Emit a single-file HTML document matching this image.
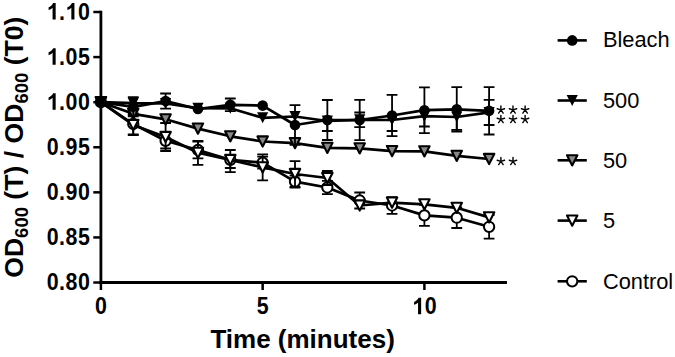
<!DOCTYPE html>
<html><head><meta charset="utf-8"><style>
html,body{margin:0;padding:0;background:#fff;}
svg{display:block;}
text{font-family:"Liberation Sans",sans-serif;fill:#000;}
.tk{font-size:22.5px;font-weight:bold;}
.ttl{font-size:26px;font-weight:bold;}
.yt{font-size:26.6px;font-weight:bold;}
.sub{font-size:18.5px;}
.lg{font-size:21.8px;}
.st{font-size:19px;}
</style></head><body>
<svg width="675" height="357" viewBox="0 0 675 357">
<rect width="675" height="357" fill="#fff"/>
<path d="M100.90,10.70V283.81" stroke="#000" stroke-width="2.8"/>
<path d="M93.3,282.51H100.90" stroke="#000" stroke-width="2.5"/>
<path d="M93.3,237.43H100.90" stroke="#000" stroke-width="2.5"/>
<path d="M93.3,192.34H100.90" stroke="#000" stroke-width="2.5"/>
<path d="M93.3,147.26H100.90" stroke="#000" stroke-width="2.5"/>
<path d="M93.3,102.17H100.90" stroke="#000" stroke-width="2.5"/>
<path d="M93.3,57.09H100.90" stroke="#000" stroke-width="2.5"/>
<path d="M93.3,12.00H100.90" stroke="#000" stroke-width="2.5"/>
<path d="M99.50,282.51H507" stroke="#000" stroke-width="2.8"/>
<path d="M100.90,282.51V290" stroke="#000" stroke-width="2.5"/>
<path d="M262.65,282.51V290" stroke="#000" stroke-width="2.5"/>
<path d="M424.40,282.51V290" stroke="#000" stroke-width="2.5"/>
<path d="M133.25,113.50V134.50M127.85,113.50H138.65M127.85,134.50H138.65" stroke="#000" stroke-width="1.8"/>
<path d="M165.60,133.10V148.50M160.20,133.10H171.00M160.20,148.50H171.00" stroke="#000" stroke-width="1.8"/>
<path d="M197.95,141.70V158.30M192.55,141.70H203.35M192.55,158.30H203.35" stroke="#000" stroke-width="1.8"/>
<path d="M230.30,150.00V172.10M224.90,150.00H235.70M224.90,172.10H235.70" stroke="#000" stroke-width="1.8"/>
<path d="M262.65,156.60V168.60M257.25,156.60H268.05M257.25,168.60H268.05" stroke="#000" stroke-width="1.8"/>
<path d="M295.00,175.60V187.60M289.60,175.60H300.40M289.60,187.60H300.40" stroke="#000" stroke-width="1.8"/>
<path d="M327.35,180.80V194.20M321.95,180.80H332.75M321.95,194.20H332.75" stroke="#000" stroke-width="1.8"/>
<path d="M359.70,192.50V208.50M354.30,192.50H365.10M354.30,208.50H365.10" stroke="#000" stroke-width="1.8"/>
<path d="M392.05,197.10V213.90M386.65,197.10H397.45M386.65,213.90H397.45" stroke="#000" stroke-width="1.8"/>
<path d="M424.40,204.90V225.90M419.00,204.90H429.80M419.00,225.90H429.80" stroke="#000" stroke-width="1.8"/>
<path d="M456.75,207.40V228.00M451.35,207.40H462.15M451.35,228.00H462.15" stroke="#000" stroke-width="1.8"/>
<path d="M489.10,215.00V238.60M483.70,215.00H494.50M483.70,238.60H494.50" stroke="#000" stroke-width="1.8"/>
<polyline points="100.90,102.17 133.25,124.00 165.60,140.80 197.95,150.00 230.30,159.80 262.65,162.60 295.00,181.60 327.35,187.50 359.70,200.50 392.05,205.50 424.40,215.40 456.75,217.70 489.10,226.80" fill="none" stroke="#000" stroke-width="2.7" stroke-linejoin="round"/>
<circle cx="100.90" cy="102.17" r="5.15" fill="#fff" stroke="#000" stroke-width="2"/>
<circle cx="133.25" cy="124.00" r="5.15" fill="#fff" stroke="#000" stroke-width="2"/>
<circle cx="165.60" cy="140.80" r="5.15" fill="#fff" stroke="#000" stroke-width="2"/>
<circle cx="197.95" cy="150.00" r="5.15" fill="#fff" stroke="#000" stroke-width="2"/>
<circle cx="230.30" cy="159.80" r="5.15" fill="#fff" stroke="#000" stroke-width="2"/>
<circle cx="262.65" cy="162.60" r="5.15" fill="#fff" stroke="#000" stroke-width="2"/>
<circle cx="295.00" cy="181.60" r="5.15" fill="#fff" stroke="#000" stroke-width="2"/>
<circle cx="327.35" cy="187.50" r="5.15" fill="#fff" stroke="#000" stroke-width="2"/>
<circle cx="359.70" cy="200.50" r="5.15" fill="#fff" stroke="#000" stroke-width="2"/>
<circle cx="392.05" cy="205.50" r="5.15" fill="#fff" stroke="#000" stroke-width="2"/>
<circle cx="424.40" cy="215.40" r="5.15" fill="#fff" stroke="#000" stroke-width="2"/>
<circle cx="456.75" cy="217.70" r="5.15" fill="#fff" stroke="#000" stroke-width="2"/>
<circle cx="489.10" cy="226.80" r="5.15" fill="#fff" stroke="#000" stroke-width="2"/>
<path d="M133.25,115.00V135.00M127.85,115.00H138.65M127.85,135.00H138.65" stroke="#000" stroke-width="1.8"/>
<path d="M165.60,123.00V151.00M160.20,123.00H171.00M160.20,151.00H171.00" stroke="#000" stroke-width="1.8"/>
<path d="M197.95,140.80V164.80M192.55,140.80H203.35M192.55,164.80H203.35" stroke="#000" stroke-width="1.8"/>
<path d="M230.30,160.00V168.00M224.90,168.00H235.70" stroke="#000" stroke-width="1.8"/>
<path d="M262.65,154.40V180.40M257.25,154.40H268.05M257.25,180.40H268.05" stroke="#000" stroke-width="1.8"/>
<path d="M295.00,161.20V186.80M289.60,161.20H300.40M289.60,186.80H300.40" stroke="#000" stroke-width="1.8"/>
<path d="M327.35,171.00V185.00M321.95,171.00H332.75M321.95,185.00H332.75" stroke="#000" stroke-width="1.8"/>
<polyline points="100.90,102.17 133.25,125.00 165.60,137.00 197.95,152.80 230.30,160.00 262.65,167.40 295.00,174.00 327.35,178.00 359.70,205.50 392.05,202.60 424.40,204.30 456.75,207.80 489.10,217.40" fill="none" stroke="#000" stroke-width="2.7" stroke-linejoin="round"/>
<path d="M95.70,97.07L106.10,97.07L100.90,107.27Z" fill="#fff" stroke="#000" stroke-width="2.1" stroke-linejoin="round"/>
<path d="M128.05,119.90L138.45,119.90L133.25,130.10Z" fill="#fff" stroke="#000" stroke-width="2.1" stroke-linejoin="round"/>
<path d="M160.40,131.90L170.80,131.90L165.60,142.10Z" fill="#fff" stroke="#000" stroke-width="2.1" stroke-linejoin="round"/>
<path d="M192.75,147.70L203.15,147.70L197.95,157.90Z" fill="#fff" stroke="#000" stroke-width="2.1" stroke-linejoin="round"/>
<path d="M225.10,154.90L235.50,154.90L230.30,165.10Z" fill="#fff" stroke="#000" stroke-width="2.1" stroke-linejoin="round"/>
<path d="M257.45,162.30L267.85,162.30L262.65,172.50Z" fill="#fff" stroke="#000" stroke-width="2.1" stroke-linejoin="round"/>
<path d="M289.80,168.90L300.20,168.90L295.00,179.10Z" fill="#fff" stroke="#000" stroke-width="2.1" stroke-linejoin="round"/>
<path d="M322.15,172.90L332.55,172.90L327.35,183.10Z" fill="#fff" stroke="#000" stroke-width="2.1" stroke-linejoin="round"/>
<path d="M354.50,200.40L364.90,200.40L359.70,210.60Z" fill="#fff" stroke="#000" stroke-width="2.1" stroke-linejoin="round"/>
<path d="M386.85,197.50L397.25,197.50L392.05,207.70Z" fill="#fff" stroke="#000" stroke-width="2.1" stroke-linejoin="round"/>
<path d="M419.20,199.20L429.60,199.20L424.40,209.40Z" fill="#fff" stroke="#000" stroke-width="2.1" stroke-linejoin="round"/>
<path d="M451.55,202.70L461.95,202.70L456.75,212.90Z" fill="#fff" stroke="#000" stroke-width="2.1" stroke-linejoin="round"/>
<path d="M483.90,212.30L494.30,212.30L489.10,222.50Z" fill="#fff" stroke="#000" stroke-width="2.1" stroke-linejoin="round"/>
<polyline points="100.90,102.17 133.25,113.80 165.60,119.30 197.95,128.60 230.30,136.30 262.65,141.50 295.00,143.10 327.35,147.80 359.70,148.30 392.05,151.10 424.40,151.30 456.75,155.80 489.10,159.00" fill="none" stroke="#000" stroke-width="2.7" stroke-linejoin="round"/>
<path d="M95.70,97.07L106.10,97.07L100.90,107.27Z" fill="#888888" stroke="#000" stroke-width="2.1" stroke-linejoin="round"/>
<path d="M128.05,108.70L138.45,108.70L133.25,118.90Z" fill="#888888" stroke="#000" stroke-width="2.1" stroke-linejoin="round"/>
<path d="M160.40,114.20L170.80,114.20L165.60,124.40Z" fill="#888888" stroke="#000" stroke-width="2.1" stroke-linejoin="round"/>
<path d="M192.75,123.50L203.15,123.50L197.95,133.70Z" fill="#888888" stroke="#000" stroke-width="2.1" stroke-linejoin="round"/>
<path d="M225.10,131.20L235.50,131.20L230.30,141.40Z" fill="#888888" stroke="#000" stroke-width="2.1" stroke-linejoin="round"/>
<path d="M257.45,136.40L267.85,136.40L262.65,146.60Z" fill="#888888" stroke="#000" stroke-width="2.1" stroke-linejoin="round"/>
<path d="M289.80,138.00L300.20,138.00L295.00,148.20Z" fill="#888888" stroke="#000" stroke-width="2.1" stroke-linejoin="round"/>
<path d="M322.15,142.70L332.55,142.70L327.35,152.90Z" fill="#888888" stroke="#000" stroke-width="2.1" stroke-linejoin="round"/>
<path d="M354.50,143.20L364.90,143.20L359.70,153.40Z" fill="#888888" stroke="#000" stroke-width="2.1" stroke-linejoin="round"/>
<path d="M386.85,146.00L397.25,146.00L392.05,156.20Z" fill="#888888" stroke="#000" stroke-width="2.1" stroke-linejoin="round"/>
<path d="M419.20,146.20L429.60,146.20L424.40,156.40Z" fill="#888888" stroke="#000" stroke-width="2.1" stroke-linejoin="round"/>
<path d="M451.55,150.70L461.95,150.70L456.75,160.90Z" fill="#888888" stroke="#000" stroke-width="2.1" stroke-linejoin="round"/>
<path d="M483.90,153.90L494.30,153.90L489.10,164.10Z" fill="#888888" stroke="#000" stroke-width="2.1" stroke-linejoin="round"/>
<path d="M327.35,121.00V131.00M321.95,131.00H332.75" stroke="#000" stroke-width="1.8"/>
<path d="M359.70,112.50V127.10M354.30,112.50H365.10M354.30,127.10H365.10" stroke="#000" stroke-width="1.8"/>
<path d="M392.05,120.00V131.00M386.65,131.00H397.45" stroke="#000" stroke-width="1.8"/>
<path d="M424.40,116.20V126.50M419.00,126.50H429.80" stroke="#000" stroke-width="1.8"/>
<path d="M456.75,117.00V129.80M451.35,129.80H462.15" stroke="#000" stroke-width="1.8"/>
<path d="M489.10,99.80V125.00M483.70,99.80H494.50M483.70,125.00H494.50" stroke="#000" stroke-width="1.8"/>
<polyline points="100.90,102.17 133.25,103.20 165.60,103.50 197.95,108.20 230.30,108.30 262.65,117.80 295.00,116.50 327.35,121.00 359.70,119.80 392.05,120.00 424.40,116.20 456.75,117.00 489.10,112.40" fill="none" stroke="#000" stroke-width="2.7" stroke-linejoin="round"/>
<path d="M95.30,96.67L106.50,96.67L100.90,107.67Z" fill="#000"/>
<path d="M127.65,97.70L138.85,97.70L133.25,108.70Z" fill="#000"/>
<path d="M160.00,98.00L171.20,98.00L165.60,109.00Z" fill="#000"/>
<path d="M192.35,102.70L203.55,102.70L197.95,113.70Z" fill="#000"/>
<path d="M224.70,102.80L235.90,102.80L230.30,113.80Z" fill="#000"/>
<path d="M257.05,112.30L268.25,112.30L262.65,123.30Z" fill="#000"/>
<path d="M289.40,111.00L300.60,111.00L295.00,122.00Z" fill="#000"/>
<path d="M321.75,115.50L332.95,115.50L327.35,126.50Z" fill="#000"/>
<path d="M354.10,114.30L365.30,114.30L359.70,125.30Z" fill="#000"/>
<path d="M386.45,114.50L397.65,114.50L392.05,125.50Z" fill="#000"/>
<path d="M418.80,110.70L430.00,110.70L424.40,121.70Z" fill="#000"/>
<path d="M451.15,111.50L462.35,111.50L456.75,122.50Z" fill="#000"/>
<path d="M483.50,106.90L494.70,106.90L489.10,117.90Z" fill="#000"/>
<path d="M133.25,97.20V116.40M127.85,97.20H138.65M127.85,116.40H138.65" stroke="#000" stroke-width="1.8"/>
<path d="M165.60,93.50V108.70M160.20,93.50H171.00M160.20,108.70H171.00" stroke="#000" stroke-width="1.8"/>
<path d="M230.30,98.50V111.10M224.90,98.50H235.70M224.90,111.10H235.70" stroke="#000" stroke-width="1.8"/>
<path d="M295.00,105.20V144.80M289.60,105.20H300.40M289.60,144.80H300.40" stroke="#000" stroke-width="1.8"/>
<path d="M327.35,100.00V140.00M321.95,100.00H332.75M321.95,140.00H332.75" stroke="#000" stroke-width="1.8"/>
<path d="M359.70,99.80V140.20M354.30,99.80H365.10M354.30,140.20H365.10" stroke="#000" stroke-width="1.8"/>
<path d="M392.05,94.90V136.10M386.65,94.90H397.45M386.65,136.10H397.45" stroke="#000" stroke-width="1.8"/>
<path d="M424.40,87.30V133.10M419.00,87.30H429.80M419.00,133.10H429.80" stroke="#000" stroke-width="1.8"/>
<path d="M456.75,87.10V131.50M451.35,87.10H462.15M451.35,131.50H462.15" stroke="#000" stroke-width="1.8"/>
<path d="M489.10,87.10V134.50M483.70,87.10H494.50M483.70,134.50H494.50" stroke="#000" stroke-width="1.8"/>
<polyline points="100.90,102.17 133.25,106.80 165.60,101.10 197.95,109.00 230.30,104.80 262.65,105.60 295.00,125.00 327.35,120.00 359.70,120.00 392.05,115.50 424.40,110.20 456.75,109.30 489.10,110.80" fill="none" stroke="#000" stroke-width="2.7" stroke-linejoin="round"/>
<circle cx="100.90" cy="102.17" r="5.3" fill="#000"/>
<circle cx="133.25" cy="106.80" r="5.3" fill="#000"/>
<circle cx="165.60" cy="101.10" r="5.3" fill="#000"/>
<circle cx="197.95" cy="109.00" r="5.3" fill="#000"/>
<circle cx="230.30" cy="104.80" r="5.3" fill="#000"/>
<circle cx="262.65" cy="105.60" r="5.3" fill="#000"/>
<circle cx="295.00" cy="125.00" r="5.3" fill="#000"/>
<circle cx="327.35" cy="120.00" r="5.3" fill="#000"/>
<circle cx="359.70" cy="120.00" r="5.3" fill="#000"/>
<circle cx="392.05" cy="115.50" r="5.3" fill="#000"/>
<circle cx="424.40" cy="110.20" r="5.3" fill="#000"/>
<circle cx="456.75" cy="109.30" r="5.3" fill="#000"/>
<circle cx="489.10" cy="110.80" r="5.3" fill="#000"/>
<text transform="translate(52.67,290.11) scale(0.95,1.04)" text-anchor="middle" class="tk">0</text>
<text transform="translate(62.05,290.11) scale(0.95,1.04)" text-anchor="middle" class="tk">.</text>
<text transform="translate(71.43,290.11) scale(0.95,1.04)" text-anchor="middle" class="tk">8</text>
<text transform="translate(83.94,290.11) scale(0.95,1.04)" text-anchor="middle" class="tk">0</text>
<text transform="translate(52.67,245.03) scale(0.95,1.04)" text-anchor="middle" class="tk">0</text>
<text transform="translate(62.05,245.03) scale(0.95,1.04)" text-anchor="middle" class="tk">.</text>
<text transform="translate(71.43,245.03) scale(0.95,1.04)" text-anchor="middle" class="tk">8</text>
<text transform="translate(83.94,245.03) scale(0.95,1.04)" text-anchor="middle" class="tk">5</text>
<text transform="translate(52.67,199.94) scale(0.95,1.04)" text-anchor="middle" class="tk">0</text>
<text transform="translate(62.05,199.94) scale(0.95,1.04)" text-anchor="middle" class="tk">.</text>
<text transform="translate(71.43,199.94) scale(0.95,1.04)" text-anchor="middle" class="tk">9</text>
<text transform="translate(83.94,199.94) scale(0.95,1.04)" text-anchor="middle" class="tk">0</text>
<text transform="translate(52.67,154.86) scale(0.95,1.04)" text-anchor="middle" class="tk">0</text>
<text transform="translate(62.05,154.86) scale(0.95,1.04)" text-anchor="middle" class="tk">.</text>
<text transform="translate(71.43,154.86) scale(0.95,1.04)" text-anchor="middle" class="tk">9</text>
<text transform="translate(83.94,154.86) scale(0.95,1.04)" text-anchor="middle" class="tk">5</text>
<path transform="translate(46.41,109.77) scale(0.02250,-0.02306)" d="M411,0H274V516Q199,446 97,413V537Q151,555 214,604T301,716H411Z" fill="#000"/>
<text transform="translate(62.05,109.77) scale(0.95,1.04)" text-anchor="middle" class="tk">.</text>
<text transform="translate(71.43,109.77) scale(0.95,1.04)" text-anchor="middle" class="tk">0</text>
<text transform="translate(83.94,109.77) scale(0.95,1.04)" text-anchor="middle" class="tk">0</text>
<path transform="translate(46.41,64.69) scale(0.02250,-0.02306)" d="M411,0H274V516Q199,446 97,413V537Q151,555 214,604T301,716H411Z" fill="#000"/>
<text transform="translate(62.05,64.69) scale(0.95,1.04)" text-anchor="middle" class="tk">.</text>
<text transform="translate(71.43,64.69) scale(0.95,1.04)" text-anchor="middle" class="tk">0</text>
<text transform="translate(83.94,64.69) scale(0.95,1.04)" text-anchor="middle" class="tk">5</text>
<path transform="translate(46.41,19.60) scale(0.02250,-0.02306)" d="M411,0H274V516Q199,446 97,413V537Q151,555 214,604T301,716H411Z" fill="#000"/>
<text transform="translate(62.05,19.60) scale(0.95,1.04)" text-anchor="middle" class="tk">.</text>
<path transform="translate(65.18,19.60) scale(0.02250,-0.02306)" d="M411,0H274V516Q199,446 97,413V537Q151,555 214,604T301,716H411Z" fill="#000"/>
<text transform="translate(83.94,19.60) scale(0.95,1.04)" text-anchor="middle" class="tk">0</text>
<text transform="translate(100.90,314.30) scale(0.95,1.04)" text-anchor="middle" class="tk">0</text>
<text transform="translate(262.65,314.30) scale(0.95,1.04)" text-anchor="middle" class="tk">5</text>
<path transform="translate(411.89,314.30) scale(0.02250,-0.02306)" d="M411,0H274V516Q199,446 97,413V537Q151,555 214,604T301,716H411Z" fill="#000"/>
<text transform="translate(430.65,314.30) scale(0.95,1.04)" text-anchor="middle" class="tk">0</text>
<text x="302.6" y="348.3" text-anchor="middle" class="ttl">Time (minutes)</text>
<text transform="translate(22.9,147.2) rotate(-90)" text-anchor="middle" class="yt">OD<tspan class="sub" dy="5">600</tspan><tspan dy="-5"> (T) / OD</tspan><tspan class="sub" dy="5">600</tspan><tspan dy="-5"> (T0)</tspan></text>
<path d="M500.90,109.95L500.90,106.05M500.90,109.95L504.61,108.74M500.90,109.95L503.19,113.11M500.90,109.95L498.61,113.11M500.90,109.95L497.19,108.74" stroke="#000" stroke-width="1.4" stroke-linecap="round" fill="none"/>
<path d="M513.00,109.95L513.00,106.05M513.00,109.95L516.71,108.74M513.00,109.95L515.29,113.11M513.00,109.95L510.71,113.11M513.00,109.95L509.29,108.74" stroke="#000" stroke-width="1.4" stroke-linecap="round" fill="none"/>
<path d="M525.10,109.95L525.10,106.05M525.10,109.95L528.81,108.74M525.10,109.95L527.39,113.11M525.10,109.95L522.81,113.11M525.10,109.95L521.39,108.74" stroke="#000" stroke-width="1.4" stroke-linecap="round" fill="none"/>
<path d="M500.90,119.45L500.90,115.55M500.90,119.45L504.61,118.24M500.90,119.45L503.19,122.61M500.90,119.45L498.61,122.61M500.90,119.45L497.19,118.24" stroke="#000" stroke-width="1.4" stroke-linecap="round" fill="none"/>
<path d="M513.00,119.45L513.00,115.55M513.00,119.45L516.71,118.24M513.00,119.45L515.29,122.61M513.00,119.45L510.71,122.61M513.00,119.45L509.29,118.24" stroke="#000" stroke-width="1.4" stroke-linecap="round" fill="none"/>
<path d="M525.10,119.45L525.10,115.55M525.10,119.45L528.81,118.24M525.10,119.45L527.39,122.61M525.10,119.45L522.81,122.61M525.10,119.45L521.39,118.24" stroke="#000" stroke-width="1.4" stroke-linecap="round" fill="none"/>
<path d="M500.90,161.45L500.90,157.55M500.90,161.45L504.61,160.24M500.90,161.45L503.19,164.61M500.90,161.45L498.61,164.61M500.90,161.45L497.19,160.24" stroke="#000" stroke-width="1.4" stroke-linecap="round" fill="none"/>
<path d="M513.00,161.45L513.00,157.55M513.00,161.45L516.71,160.24M513.00,161.45L515.29,164.61M513.00,161.45L510.71,164.61M513.00,161.45L509.29,160.24" stroke="#000" stroke-width="1.4" stroke-linecap="round" fill="none"/>
<path d="M557.6,40.4H586.8" stroke="#000" stroke-width="2.6"/>
<circle cx="572.20" cy="40.40" r="5.3" fill="#000"/>
<text transform="translate(602.9,47.40) scale(1,1.04)" class="lg">Bleach</text>
<path d="M557.6,100.5H586.8" stroke="#000" stroke-width="2.6"/>
<path d="M566.60,95.00L577.80,95.00L572.20,106.00Z" fill="#000"/>
<text transform="translate(602.9,107.90) scale(1,1.04)" class="lg">500</text>
<path d="M557.6,160.3H586.8" stroke="#000" stroke-width="2.6"/>
<path d="M567.00,155.20L577.40,155.20L572.20,165.40Z" fill="#888888" stroke="#000" stroke-width="2.1" stroke-linejoin="round"/>
<text transform="translate(602.9,168.00) scale(1,1.04)" class="lg">50</text>
<path d="M557.6,220.6H586.8" stroke="#000" stroke-width="2.6"/>
<path d="M567.00,215.50L577.40,215.50L572.20,225.70Z" fill="#fff" stroke="#000" stroke-width="2.1" stroke-linejoin="round"/>
<text transform="translate(602.9,228.10) scale(1,1.04)" class="lg">5</text>
<path d="M557.6,281.3H586.8" stroke="#000" stroke-width="2.6"/>
<circle cx="572.20" cy="281.30" r="5.15" fill="#fff" stroke="#000" stroke-width="2"/>
<text transform="translate(602.9,288.50) scale(1,1.04)" class="lg">Control</text>
</svg>
</body></html>
